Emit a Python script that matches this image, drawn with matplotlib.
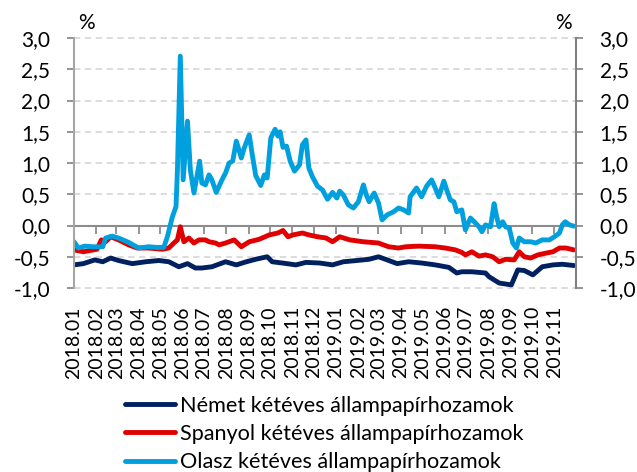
import matplotlib
matplotlib.use("Agg")
import matplotlib.pyplot as plt
import pandas as pd

plt.rcParams["font.family"] = ["Lato", "DejaVu Sans"]

# Német kétéves állampapírhozam (%)
de_dates = ["2018-01-01", "2018-01-14", "2018-01-30", "2018-02-10", "2018-02-21", "2018-03-04",
            "2018-03-23", "2018-04-11", "2018-04-29", "2018-05-13", "2018-05-27", "2018-06-08",
            "2018-06-19", "2018-06-28", "2018-07-12", "2018-07-31", "2018-08-15", "2018-08-29",
            "2018-09-11", "2018-09-27", "2018-10-04", "2018-10-18", "2018-11-06", "2018-11-20",
            "2018-12-09", "2018-12-27", "2019-01-11", "2019-01-30", "2019-02-16", "2019-03-01",
            "2019-03-13", "2019-03-27", "2019-04-12", "2019-04-30", "2019-05-19", "2019-06-07",
            "2019-06-18", "2019-06-25", "2019-07-09", "2019-07-28", "2019-08-02", "2019-08-16",
            "2019-09-02", "2019-09-11", "2019-09-20", "2019-10-02", "2019-10-15", "2019-10-30",
            "2019-11-12", "2019-11-28"]
de_vals = [-0.63, -0.61, -0.55, -0.58, -0.52, -0.56, -0.61, -0.58, -0.56, -0.58, -0.66, -0.61,
           -0.68, -0.68, -0.66, -0.58, -0.63, -0.58, -0.54, -0.50, -0.58, -0.60, -0.63, -0.59,
           -0.60, -0.63, -0.58, -0.56, -0.54, -0.50, -0.55, -0.61, -0.58, -0.60, -0.63, -0.67,
           -0.76, -0.74, -0.74, -0.76, -0.82, -0.92, -0.95, -0.71, -0.72, -0.79, -0.66, -0.63,
           -0.62, -0.64]

# Spanyol kétéves állampapírhozam (%)
es_dates = ["2018-01-01", "2018-01-14", "2018-02-02", "2018-02-08", "2018-02-14", "2018-02-21",
            "2018-03-04", "2018-03-18", "2018-03-30", "2018-04-15", "2018-05-04", "2018-05-13",
            "2018-05-20", "2018-05-25", "2018-05-29", "2018-06-03", "2018-06-10", "2018-06-17",
            "2018-06-24", "2018-07-03", "2018-07-08", "2018-07-17", "2018-07-22", "2018-07-31",
            "2018-08-12", "2018-08-22", "2018-09-02", "2018-09-16", "2018-09-30", "2018-10-12",
            "2018-10-19", "2018-10-26", "2018-11-02", "2018-11-15", "2018-11-24", "2018-12-06",
            "2018-12-18", "2018-12-27", "2019-01-06", "2019-01-20", "2019-02-08", "2019-03-01",
            "2019-03-15", "2019-03-29", "2019-04-08", "2019-04-26", "2019-05-19", "2019-06-02",
            "2019-06-16", "2019-06-25", "2019-06-30", "2019-07-09", "2019-07-19", "2019-07-28",
            "2019-08-07", "2019-08-16", "2019-08-25", "2019-09-06", "2019-09-13", "2019-09-20",
            "2019-09-29", "2019-10-09", "2019-10-21", "2019-10-30", "2019-11-08", "2019-11-17",
            "2019-11-28"]
es_vals = [-0.39, -0.42, -0.38, -0.23, -0.26, -0.18, -0.23, -0.31, -0.36, -0.36, -0.38, -0.36,
           -0.28, -0.23, -0.02, -0.26, -0.20, -0.28, -0.23, -0.23, -0.26, -0.28, -0.31, -0.28,
           -0.23, -0.34, -0.26, -0.22, -0.15, -0.12, -0.08, -0.18, -0.15, -0.12, -0.15, -0.18,
           -0.20, -0.26, -0.18, -0.23, -0.26, -0.28, -0.34, -0.36, -0.34, -0.33, -0.34, -0.36,
           -0.39, -0.43, -0.47, -0.42, -0.49, -0.47, -0.50, -0.58, -0.54, -0.55, -0.42, -0.50,
           -0.52, -0.47, -0.44, -0.42, -0.36, -0.36, -0.39]

# Olasz kétéves állampapírhozam (%)
it_dates = ["2018-01-01", "2018-01-07", "2018-01-16", "2018-01-28", "2018-02-10", "2018-02-14",
            "2018-02-23", "2018-03-04", "2018-03-18", "2018-04-01", "2018-04-15", "2018-04-26",
            "2018-05-06", "2018-05-11", "2018-05-18", "2018-05-23", "2018-05-25", "2018-05-29",
            "2018-06-02", "2018-06-08", "2018-06-12", "2018-06-17", "2018-06-25", "2018-06-28",
            "2018-07-03", "2018-07-08", "2018-07-12", "2018-07-18", "2018-07-26", "2018-07-31",
            "2018-08-05", "2018-08-10", "2018-08-15", "2018-08-22", "2018-08-26", "2018-09-02",
            "2018-09-06", "2018-09-11", "2018-09-18", "2018-09-23", "2018-09-27", "2018-10-02",
            "2018-10-08", "2018-10-12", "2018-10-15", "2018-10-19", "2018-10-24", "2018-10-29",
            "2018-11-04", "2018-11-11", "2018-11-15", "2018-11-20", "2018-11-24", "2018-11-29",
            "2018-12-06", "2018-12-13", "2018-12-20", "2018-12-27", "2019-01-02", "2019-01-06",
            "2019-01-11", "2019-01-18", "2019-01-25", "2019-02-01", "2019-02-08", "2019-02-12",
            "2019-02-16", "2019-02-23", "2019-03-01", "2019-03-06", "2019-03-13", "2019-03-22",
            "2019-03-29", "2019-04-05", "2019-04-12", "2019-04-14", "2019-04-23", "2019-04-30",
            "2019-05-07", "2019-05-14", "2019-05-19", "2019-05-24", "2019-05-31", "2019-06-04",
            "2019-06-09", "2019-06-14", "2019-06-18", "2019-06-25", "2019-06-30", "2019-07-07",
            "2019-07-14", "2019-07-19", "2019-07-23", "2019-07-28", "2019-08-04", "2019-08-09",
            "2019-08-12", "2019-08-16", "2019-08-21", "2019-08-25", "2019-08-30", "2019-09-04",
            "2019-09-09", "2019-09-13", "2019-09-20", "2019-09-29", "2019-10-06", "2019-10-15",
            "2019-10-25", "2019-11-01", "2019-11-08", "2019-11-12", "2019-11-16", "2019-11-22",
            "2019-11-28"]
it_vals = [-0.26, -0.36, -0.33, -0.34, -0.34, -0.20, -0.17, -0.20, -0.27, -0.36, -0.34, -0.35,
           -0.35, -0.18, 0.14, 0.30, 0.89, 2.71, 0.73, 1.67, 0.89, 0.52, 1.03, 0.68,
           0.65, 0.81, 0.73, 0.53, 0.73, 0.84, 1.00, 1.03, 1.35, 1.08, 1.24, 1.45,
           1.15, 0.80, 0.64, 0.81, 0.76, 1.40, 1.54, 1.43, 1.50, 1.25, 1.27, 1.03,
           0.87, 0.97, 1.29, 1.37, 0.92, 0.78, 0.63, 0.57, 0.42, 0.53, 0.44, 0.55,
           0.49, 0.33, 0.28, 0.38, 0.65, 0.49, 0.38, 0.52, 0.36, 0.09, 0.17, 0.22,
           0.28, 0.25, 0.20, 0.46, 0.60, 0.46, 0.63, 0.73, 0.60, 0.46, 0.71, 0.57,
           0.41, 0.38, 0.22, 0.25, -0.07, 0.12, 0.04, -0.02, -0.10, 0.01, -0.02, 0.35,
           0.17, -0.02, 0.06, -0.02, -0.04, -0.28, -0.36, -0.20, -0.26, -0.26, -0.28, -0.23,
           -0.23, -0.18, -0.12, 0.01, 0.06, 0.01, -0.01]

series = [
    ("Német kétéves állampapírhozamok", de_dates, de_vals, "#002060"),
    ("Spanyol kétéves állampapírhozamok", es_dates, es_vals, "#E00000"),
    ("Olasz kétéves állampapírhozamok", it_dates, it_vals, "#00A0DF"),
]

month_ticks = pd.date_range("2018-01-01", "2019-11-01", freq="MS")
month_labels = [d.strftime("%Y.%m") for d in month_ticks]
y_ticks = [-1.0, -0.5, 0.0, 0.5, 1.0, 1.5, 2.0, 2.5, 3.0]
y_labels = [f"{v:.1f}".replace(".", ",") for v in y_ticks]

fig = plt.figure(figsize=(6.37, 4.72), dpi=100)
ax = fig.add_axes([0.1162, 0.3898, 0.788, 0.5297])

for name, dts, vals, col in series:
    ax.plot(pd.to_datetime(dts), vals, color=col, lw=3.5, label=name,
            solid_joinstyle="round", solid_capstyle="round")

ax.set_xlim(pd.Timestamp("2018-01-01"), pd.Timestamp("2019-12-01"))
ax.set_ylim(-1.0, 3.0)

# szaggatott rácsvonalak, a 0 tengely folytonos
for v in y_ticks:
    if v != 0:
        ax.axhline(v, color="#D9D9D9", lw=1.3, ls=(0, (3.5, 2.5)), zorder=0, clip_on=False)

ax.set_yticks(y_ticks)
ax.set_yticklabels(y_labels)
ax.tick_params(axis="y", which="both", left=True, right=True, labelleft=True, labelright=True,
               direction="out", length=5, width=1.3, color="#8C8C8C", labelsize=15, pad=12)
for s in ["top", "bottom"]:
    ax.spines[s].set_visible(False)
ax.spines["left"].set_color("#A6A6A6")
ax.spines["right"].set_color("#808080")
ax.spines["left"].set_linewidth(1.5)
ax.spines["right"].set_linewidth(1.5)

ax.set_xticks(month_ticks)
ax.set_xticklabels(month_labels, rotation=90)
ax.tick_params(axis="x", length=0, labelsize=14, pad=13)

# 0 tengely a havi osztásokkal
zero_ax = ax.secondary_xaxis(0.25)
zero_ax.set_xticks(month_ticks)
zero_ax.set_xticklabels([])
zero_ax.tick_params(axis="x", direction="out", length=6, width=1.3, color="#8C8C8C")
zero_ax.spines["bottom"].set_color("#8C8C8C")
zero_ax.spines["bottom"].set_linewidth(1.5)

fig.text(86.5 / 637, 1 - 23 / 472, "%", ha="center", va="center", fontsize=15)
fig.text(563 / 637, 1 - 23 / 472, "%", ha="center", va="center", fontsize=15)

fig.legend(loc="center", bbox_to_anchor=(0.5 + 6 / 637, 1 - 434 / 472), frameon=False,
           fontsize=15.6, handlelength=2.3, handletextpad=0.25, labelspacing=0.38,
           borderpad=0, borderaxespad=0)

fig.savefig("out.png", dpi=100)
